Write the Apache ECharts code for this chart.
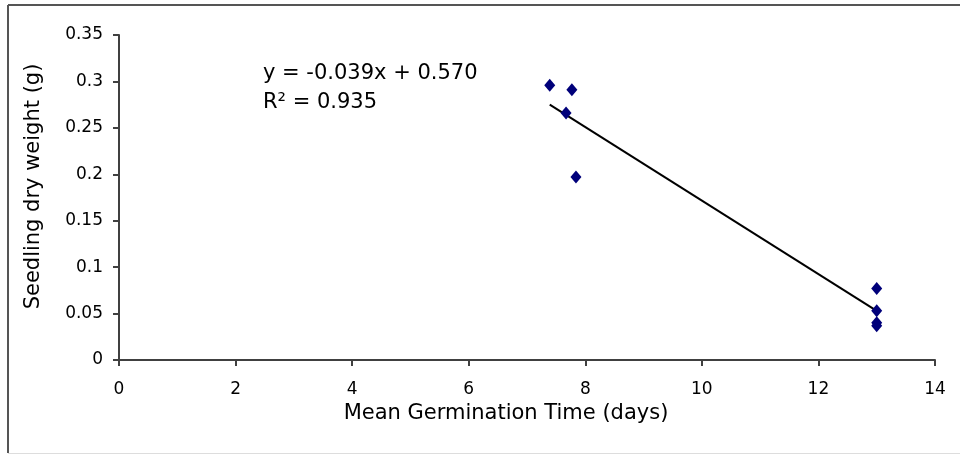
<!DOCTYPE html>
<html>
<head>
<meta charset="utf-8">
<script src="https://cdn.jsdelivr.net/npm/echarts@6/dist/echarts.min.js"></script>
<style>html,body{margin:0;padding:0;background:#fff}#c{width:960px;height:455px}</style>
</head>
<body>
<div id="c"></div>
<script>
// Data
var germTime = [7.39, 7.77, 7.67, 7.84, 13.0, 13.0, 13.0, 13.0];
var dryWeight = [0.296, 0.291, 0.266, 0.197, 0.077, 0.053, 0.040, 0.037];
var trendX = [7.39, 13.0];
var trendY = [0.275, 0.053];
var xTicks = [0, 2, 4, 6, 8, 10, 12, 14];
var yTicks = [0, 0.05, 0.1, 0.15, 0.2, 0.25, 0.3, 0.35];
var equationLines = ['y = -0.039x + 0.570', 'R\u00b2 = 0.935'];

var chart = echarts.init(document.getElementById('c'), null, {renderer: 'canvas'});
var pts = germTime.map(function (x, i) { return [x, dryWeight[i]]; });
var trend = trendX.map(function (x, i) { return [x, trendY[i]]; });

var axisLineStyle = {color: '#404040', width: 2};
chart.setOption({
  animation: false,
  backgroundColor: '#fff',
  grid: {left: 119, right: 25, top: 35, bottom: 95},
  xAxis: {
    type: 'value', min: xTicks[0], max: xTicks[xTicks.length - 1], interval: 2,
    name: 'Mean Germination Time (days)', nameLocation: 'middle', nameGap: 40,
    nameTextStyle: {fontFamily: 'DejaVu Sans', fontSize: 21, color: '#000', padding: [0, 42, 0, 0]},
    axisLine: {show: true, lineStyle: axisLineStyle},
    axisTick: {show: true, length: 6, lineStyle: axisLineStyle},
    axisLabel: {fontFamily: 'DejaVu Sans', fontSize: 17, color: '#000', margin: 21},
    splitLine: {show: false}
  },
  yAxis: {
    type: 'value', min: yTicks[0], max: yTicks[yTicks.length - 1], interval: 0.05,
    name: 'Seedling dry weight (g)', nameLocation: 'middle', nameGap: 75,
    nameTextStyle: {fontFamily: 'DejaVu Sans', fontSize: 21, color: '#000', padding: [0, 0, 0, 22]},
    axisLine: {show: true, lineStyle: axisLineStyle},
    axisTick: {show: true, length: 6, lineStyle: axisLineStyle},
    axisLabel: {fontFamily: 'DejaVu Sans', fontSize: 17, color: '#000', margin: 16,
      formatter: function (v) { return String(+v.toFixed(2)); }},
    splitLine: {show: false}
  },
  graphic: [
    {type: 'line', shape: {x1: 8, y1: 5, x2: 960, y2: 5}, style: {stroke: '#555', lineWidth: 2}},
    {type: 'line', shape: {x1: 8, y1: 5, x2: 8, y2: 453}, style: {stroke: '#555', lineWidth: 2}},
    {type: 'line', shape: {x1: 8, y1: 453.5, x2: 960, y2: 453.5}, style: {stroke: '#ddd', lineWidth: 1}},
    {type: 'text', left: 263, top: 59, style: {text: equationLines.join('\n'), fontFamily: 'DejaVu Sans', fontSize: 21, lineHeight: 29, fill: '#000'}}
  ],
  series: [
    {type: 'line', data: trend, showSymbol: false, symbol: 'none',
     lineStyle: {color: '#000', width: 2}, z: 2},
    {type: 'scatter', data: pts, symbol: 'diamond', symbolSize: [11, 13],
     itemStyle: {color: '#00007a', opacity: 1}, z: 3}
  ]
});
</script>
</body>
</html>
